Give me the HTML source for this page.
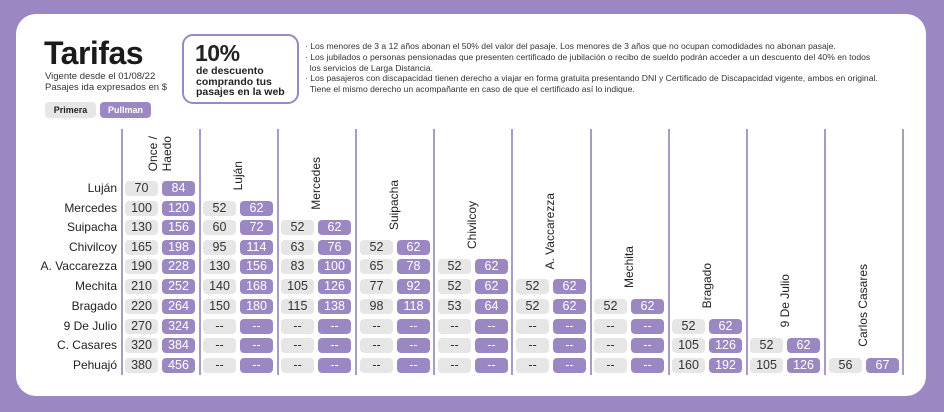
<!DOCTYPE html>
<html><head><meta charset="utf-8"><style>
*{margin:0;padding:0;box-sizing:border-box}
body{width:944px;height:412px;background:#9b88c3;position:relative;overflow:hidden;font-family:"Liberation Sans",sans-serif;color:#222}
.card{position:absolute;left:16px;top:14px;width:910px;height:382px;background:#fff;border-radius:20px}
.a{position:absolute}
h1{position:absolute;left:44px;top:35px;font-size:32px;font-weight:bold;letter-spacing:-0.5px;color:#1a1a1a}
.sub{left:45px;top:71px;font-size:9.5px;line-height:11px;color:#333}
.btn{top:102px;height:16px;width:51px;border-radius:4px;font-size:9px;font-weight:bold;text-align:center;line-height:16px}
.box{left:182px;top:34px;width:117px;height:70px;border:2px solid #9b88c3;border-radius:11px}
.box .big{position:absolute;left:11px;top:4px;font-size:23px;font-weight:bold;letter-spacing:-0.5px}
.box .t{position:absolute;left:12px;top:30px;font-size:10.5px;font-weight:bold;line-height:10.7px}
.notes{left:305px;top:41px;font-size:8.6px;line-height:10.8px;color:#333;white-space:nowrap}
.vl{position:absolute;top:129px;height:246px;width:1.5px;background:#a89cc6}
.rl{position:absolute;right:827px;font-size:12px;line-height:15px;color:#222;white-space:nowrap}
.k{position:absolute;height:15px;width:70px}
.k i{position:absolute;top:0;width:33px;height:15px;border-radius:4px;font-style:normal;font-size:12.5px;line-height:15px;text-align:center}
.k i:first-child{left:0;background:#e6e6e6;color:#333}
.k i:last-child{left:37px;background:#9b88c3;color:#fff}
.h{position:absolute;writing-mode:vertical-rl;transform:rotate(180deg);font-size:12px;line-height:14px;color:#222;white-space:nowrap}
</style></head><body>
<div class="card"></div>
<h1>Tarifas</h1>
<div class="a sub">Vigente desde el 01/08/22<br>Pasajes ida expresados en $</div>
<div class="a btn" style="left:45px;background:#e6e6e6;color:#222">Primera</div>
<div class="a btn" style="left:100px;background:#9b88c3;color:#fff">Pullman</div>
<div class="a box"><div class="big">10%</div><div class="t">de descuento<br>comprando tus<br>pasajes en la web</div></div>
<div class="a notes">
· Los menores de 3 a 12 años abonan el 50% del valor del pasaje. Los menores de 3 años que no ocupan comodidades no abonan pasaje.<br>
· Los jubilados o personas pensionadas que presenten certificado de jubilación o recibo de sueldo podrán acceder a un descuento del 40% en todos<br>
&nbsp;&nbsp;los servicios de Larga Distancia.<br>
· Los pasajeros con discapacidad tienen derecho a viajar en forma gratuita presentando DNI y Certificado de Discapacidad vigente, ambos en original.<br>
&nbsp;&nbsp;Tiene el mismo derecho un acompañante en caso de que el certificado así lo indique.
</div>

<div class="vl" style="left:121px"></div><div class="vl" style="left:199px"></div><div class="vl" style="left:277px"></div><div class="vl" style="left:355px"></div><div class="vl" style="left:433px"></div><div class="vl" style="left:511px"></div><div class="vl" style="left:590px"></div><div class="vl" style="left:668px"></div><div class="vl" style="left:746px"></div><div class="vl" style="left:824px"></div><div class="vl" style="left:902px"></div>

<div class="h" style="left:146px;bottom:241px">Once /<br>Haedo</div>
<div class="h" style="left:231px;bottom:222px">Luján</div>
<div class="h" style="left:309px;bottom:202px">Mercedes</div>
<div class="h" style="left:387px;bottom:182px">Suipacha</div>
<div class="h" style="left:465px;bottom:163px">Chivilcoy</div>
<div class="h" style="left:543px;bottom:143px">A. Vaccarezza</div>
<div class="h" style="left:622px;bottom:124px">Mechita</div>
<div class="h" style="left:700px;bottom:104px">Bragado</div>
<div class="h" style="left:778px;bottom:85px">9 De Julio</div>
<div class="h" style="left:856px;bottom:65px">Carlos Casares</div>

<div class="rl" style="top:181px">Luján</div>
<div class="rl" style="top:201px">Mercedes</div>
<div class="rl" style="top:220px">Suipacha</div>
<div class="rl" style="top:240px">Chivilcoy</div>
<div class="rl" style="top:259px">A. Vaccarezza</div>
<div class="rl" style="top:279px">Mechita</div>
<div class="rl" style="top:299px">Bragado</div>
<div class="rl" style="top:319px">9 De Julio</div>
<div class="rl" style="top:338px">C. Casares</div>
<div class="rl" style="top:358px">Pehuajó</div>

<div class="k" style="left:125px;top:181px"><i>70</i><i>84</i></div>
<div class="k" style="left:125px;top:201px"><i>100</i><i>120</i></div>
<div class="k" style="left:125px;top:220px"><i>130</i><i>156</i></div>
<div class="k" style="left:125px;top:240px"><i>165</i><i>198</i></div>
<div class="k" style="left:125px;top:259px"><i>190</i><i>228</i></div>
<div class="k" style="left:125px;top:279px"><i>210</i><i>252</i></div>
<div class="k" style="left:125px;top:299px"><i>220</i><i>264</i></div>
<div class="k" style="left:125px;top:319px"><i>270</i><i>324</i></div>
<div class="k" style="left:125px;top:338px"><i>320</i><i>384</i></div>
<div class="k" style="left:125px;top:358px"><i>380</i><i>456</i></div>
<div class="k" style="left:203px;top:201px"><i>52</i><i>62</i></div>
<div class="k" style="left:203px;top:220px"><i>60</i><i>72</i></div>
<div class="k" style="left:203px;top:240px"><i>95</i><i>114</i></div>
<div class="k" style="left:203px;top:259px"><i>130</i><i>156</i></div>
<div class="k" style="left:203px;top:279px"><i>140</i><i>168</i></div>
<div class="k" style="left:203px;top:299px"><i>150</i><i>180</i></div>
<div class="k" style="left:203px;top:319px"><i>--</i><i>--</i></div>
<div class="k" style="left:203px;top:338px"><i>--</i><i>--</i></div>
<div class="k" style="left:203px;top:358px"><i>--</i><i>--</i></div>
<div class="k" style="left:281px;top:220px"><i>52</i><i>62</i></div>
<div class="k" style="left:281px;top:240px"><i>63</i><i>76</i></div>
<div class="k" style="left:281px;top:259px"><i>83</i><i>100</i></div>
<div class="k" style="left:281px;top:279px"><i>105</i><i>126</i></div>
<div class="k" style="left:281px;top:299px"><i>115</i><i>138</i></div>
<div class="k" style="left:281px;top:319px"><i>--</i><i>--</i></div>
<div class="k" style="left:281px;top:338px"><i>--</i><i>--</i></div>
<div class="k" style="left:281px;top:358px"><i>--</i><i>--</i></div>
<div class="k" style="left:360px;top:240px"><i>52</i><i>62</i></div>
<div class="k" style="left:360px;top:259px"><i>65</i><i>78</i></div>
<div class="k" style="left:360px;top:279px"><i>77</i><i>92</i></div>
<div class="k" style="left:360px;top:299px"><i>98</i><i>118</i></div>
<div class="k" style="left:360px;top:319px"><i>--</i><i>--</i></div>
<div class="k" style="left:360px;top:338px"><i>--</i><i>--</i></div>
<div class="k" style="left:360px;top:358px"><i>--</i><i>--</i></div>
<div class="k" style="left:438px;top:259px"><i>52</i><i>62</i></div>
<div class="k" style="left:438px;top:279px"><i>52</i><i>62</i></div>
<div class="k" style="left:438px;top:299px"><i>53</i><i>64</i></div>
<div class="k" style="left:438px;top:319px"><i>--</i><i>--</i></div>
<div class="k" style="left:438px;top:338px"><i>--</i><i>--</i></div>
<div class="k" style="left:438px;top:358px"><i>--</i><i>--</i></div>
<div class="k" style="left:516px;top:279px"><i>52</i><i>62</i></div>
<div class="k" style="left:516px;top:299px"><i>52</i><i>62</i></div>
<div class="k" style="left:516px;top:319px"><i>--</i><i>--</i></div>
<div class="k" style="left:516px;top:338px"><i>--</i><i>--</i></div>
<div class="k" style="left:516px;top:358px"><i>--</i><i>--</i></div>
<div class="k" style="left:594px;top:299px"><i>52</i><i>62</i></div>
<div class="k" style="left:594px;top:319px"><i>--</i><i>--</i></div>
<div class="k" style="left:594px;top:338px"><i>--</i><i>--</i></div>
<div class="k" style="left:594px;top:358px"><i>--</i><i>--</i></div>
<div class="k" style="left:672px;top:319px"><i>52</i><i>62</i></div>
<div class="k" style="left:672px;top:338px"><i>105</i><i>126</i></div>
<div class="k" style="left:672px;top:358px"><i>160</i><i>192</i></div>
<div class="k" style="left:750px;top:338px"><i>52</i><i>62</i></div>
<div class="k" style="left:750px;top:358px"><i>105</i><i>126</i></div>
<div class="k" style="left:829px;top:358px"><i>56</i><i>67</i></div>
</body></html>
